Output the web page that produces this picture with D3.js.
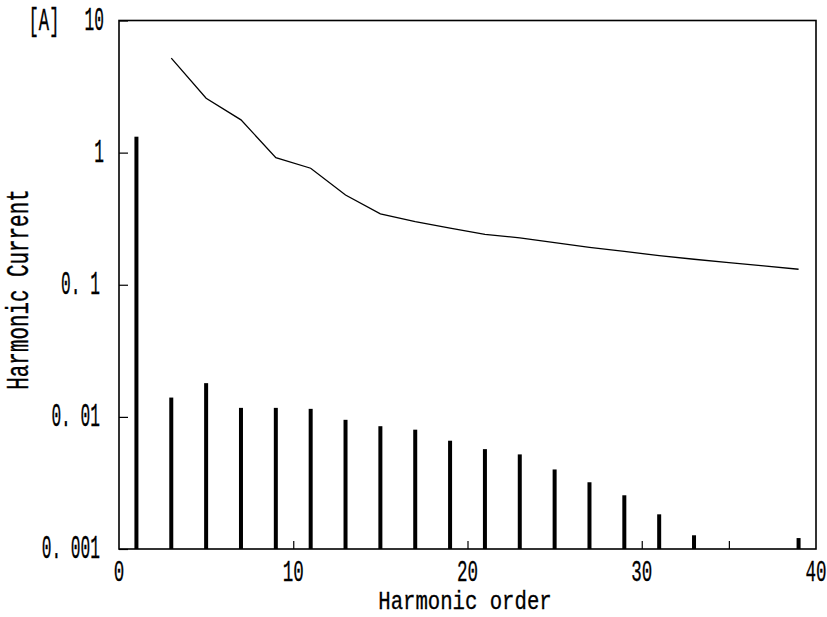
<!DOCTYPE html>
<html>
<head>
<meta charset="utf-8">
<script src="https://cdn.jsdelivr.net/npm/d3@7"></script>
<style>
  body { margin: 0; background: #fff; }
  text { font-family: "Liberation Mono", "DejaVu Sans Mono", monospace; fill: #000; stroke: #000; stroke-width: 0.3; }
</style>
</head>
<body>
<div id="chart"></div>
<script>
// harmonic orders shown as bars
const orders = [1, 3, 5, 7, 9, 11, 13, 15, 17, 19, 21, 23, 25, 27, 29, 31, 33, 39];
const measured = [1.32, 0.0140, 0.0180, 0.0117, 0.0117, 0.0115, 0.0095, 0.0085, 0.0080, 0.0066,
                  0.0057, 0.0052, 0.0040, 0.0032, 0.00255, 0.00183, 0.00127, 0.00121];
// limit curve
const limitOrders = [3, 5, 7, 9, 11, 13, 15, 17, 19, 21, 23, 25, 27, 29, 31, 33, 35, 37, 39];
const limitValues = [5.19, 2.58, 1.77, 0.917, 0.762, 0.478, 0.344, 0.30, 0.268, 0.241,
                     0.226, 0.208, 0.192, 0.179, 0.166, 0.156, 0.147, 0.139, 0.131];
const yTicks = [10, 1, 0.1, 0.01, 0.001];
const yTickLabels = ["10", "1", "0. 1", "0. 01", "0. 001"];
const xTicks = [0, 10, 20, 30, 40];
const xMinorTicks = [5, 10, 15, 20, 25, 30, 35];

const W = 827, H = 617;
const margin = {top: 20.5, right: 11, bottom: 68, left: 119};
const width = W - margin.left - margin.right,
      height = H - margin.top - margin.bottom;

const svg = d3.select("#chart").append("svg")
    .attr("width", W).attr("height", H);
const g = svg.append("g")
    .attr("transform", "translate(" + margin.left + "," + margin.top + ")");

const x = d3.scaleLinear().domain([0, 40]).range([0, width]);
const y = d3.scaleLog().domain([0.001, 10]).range([height, 0]);

// bars
g.append("g").selectAll("rect")
    .data(orders)
    .enter().append("rect")
    .attr("x", (d) => x(d) - 2)
    .attr("width", 4)
    .attr("y", (d, i) => y(measured[i]))
    .attr("height", (d, i) => height - y(measured[i]))
    .attr("fill", "#000");

// limit line
const line = d3.line()
    .x((d) => x(d))
    .y((d, i) => y(limitValues[i]));
g.append("path")
    .datum(limitOrders)
    .attr("d", line)
    .attr("fill", "none")
    .attr("stroke", "#000")
    .attr("stroke-width", 1.3);

// inward ticks
g.append("g")
    .call(d3.axisLeft(y).tickValues(yTicks).tickSize(-9).tickFormat(""))
    .call((a) => a.select(".domain").remove())
    .selectAll("line").attr("stroke-width", 1.2);
g.append("g")
    .attr("transform", "translate(0," + height + ")")
    .call(d3.axisBottom(x).tickValues(xMinorTicks).tickSize(-8).tickFormat(""))
    .call((a) => a.select(".domain").remove())
    .selectAll("line").attr("stroke-width", 1.2);

// frame
g.append("rect")
    .attr("x", 0).attr("y", 0)
    .attr("width", width).attr("height", height)
    .attr("fill", "none")
    .attr("stroke", "#000")
    .attr("stroke-width", 1.6);

// y tick labels
g.append("g").selectAll("text")
    .data(yTicks)
    .enter().append("text")
    .attr("transform", (d) => "translate(" + (d >= 1 ? -15 : -19) + "," + (y(d) + 9) + ") scale(0.6,1.2)")
    .attr("text-anchor", "end")
    .attr("font-size", 27)
    .text((d, i) => yTickLabels[i]);

// x tick labels
g.append("g").selectAll("text")
    .data(xTicks)
    .enter().append("text")
    .attr("transform", (d) => "translate(" + x(d) + "," + (581 - margin.top) + ") scale(0.65,1.1)")
    .attr("text-anchor", "middle")
    .attr("font-size", 27)
    .text((d) => d);

// unit
svg.append("text")
    .attr("transform", "translate(44,30) scale(0.66,1.2)")
    .attr("text-anchor", "middle")
    .attr("font-size", 26)
    .text("[A]");

// axis titles
svg.append("text")
    .attr("transform", "translate(465,609) scale(0.86,1.05)")
    .attr("text-anchor", "middle")
    .attr("font-size", 24)
    .text("Harmonic order");

svg.append("text")
    .attr("transform", "translate(28,289.5) rotate(-90) scale(0.87,1.28)")
    .attr("text-anchor", "middle")
    .attr("font-size", 24)
    .text("Harmonic Current");
</script>
</body>
</html>
